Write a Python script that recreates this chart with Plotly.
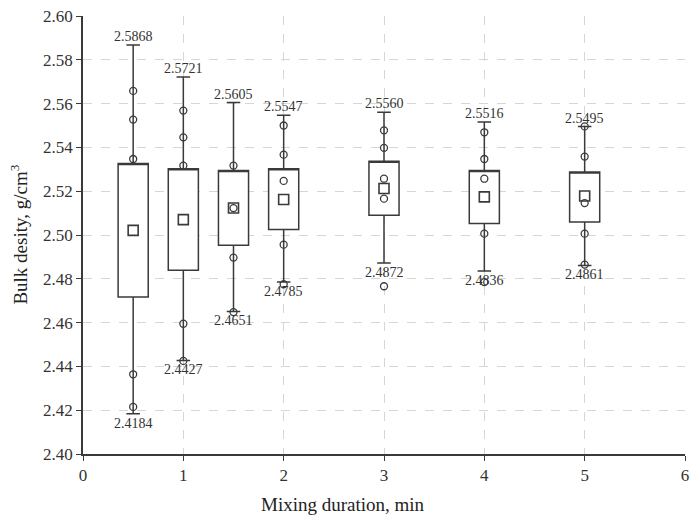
import plotly.graph_objects as go

# Data
positions = [0.5, 1.0, 1.5, 2.0, 3.0, 4.0, 5.0]
upper_whisker = [2.5868, 2.5721, 2.5605, 2.5547, 2.5560, 2.5516, 2.5495]
lower_whisker = [2.4184, 2.4427, 2.4651, 2.4785, 2.4872, 2.4836, 2.4861]
q3_values = [2.5326, 2.5303, 2.5295, 2.5302, 2.5337, 2.5295, 2.5288]
q1_values = [2.4717, 2.4839, 2.4953, 2.5025, 2.5090, 2.5052, 2.5059]
mean_values = [2.5021, 2.5070, 2.5123, 2.5162, 2.5212, 2.5174, 2.5178]
upper_labels = ["2.5868", "2.5721", "2.5605", "2.5547", "2.5560", "2.5516", "2.5495"]
lower_labels = ["2.4184", "2.4427", "2.4651", "2.4785", "2.4872", "2.4836", "2.4861"]

# individual points (circles)
point_x = [0.5, 0.5, 0.5, 0.5, 0.5,
           1.0, 1.0, 1.0, 1.0, 1.0,
           1.5, 1.5, 1.5, 1.5,
           2.0, 2.0, 2.0, 2.0, 2.0,
           3.0, 3.0, 3.0, 3.0, 3.0,
           4.0, 4.0, 4.0, 4.0, 4.0,
           5.0, 5.0, 5.0, 5.0, 5.0]
point_y = [2.5658, 2.5527, 2.5347, 2.4364, 2.4215,
           2.5568, 2.5446, 2.5317, 2.4595, 2.4425,
           2.5317, 2.5123, 2.4897, 2.4648,
           2.5500, 2.5367, 2.5247, 2.4956, 2.4775,
           2.5478, 2.5398, 2.5257, 2.5166, 2.4766,
           2.5469, 2.5347, 2.5257, 2.5006, 2.4785,
           2.5496, 2.5358, 2.5146, 2.5006, 2.4865]

line_col = "#3a3a3a"
serif = "Liberation Serif, Times New Roman, serif"

fig = go.Figure()
for i, p in enumerate(positions):
    fig.add_trace(go.Box(
        x=[p], q1=[q1_values[i]], median=[q3_values[i]], q3=[q3_values[i]],
        lowerfence=[lower_whisker[i]], upperfence=[upper_whisker[i]],
        width=0.3, whiskerwidth=0.45, boxpoints=False,
        fillcolor="white", line=dict(color=line_col, width=1.5),
        showlegend=False, hoverinfo="skip"))

fig.add_trace(go.Scatter(
    x=point_x, y=point_y, mode="markers",
    marker=dict(symbol="circle-open", size=7, color=line_col, line=dict(width=1.3)),
    showlegend=False))
fig.add_trace(go.Scatter(
    x=positions, y=mean_values, mode="markers",
    marker=dict(symbol="square-open", size=10, color=line_col, line=dict(width=1.6)),
    showlegend=False))

for i, p in enumerate(positions):
    fig.add_annotation(x=p, y=upper_whisker[i], text=upper_labels[i], showarrow=False,
                       yanchor="bottom", yshift=-1, font=dict(family=serif, size=14, color="#333"))
    fig.add_annotation(x=p, y=lower_whisker[i], text=lower_labels[i], showarrow=False,
                       yanchor="top", yshift=0, font=dict(family=serif, size=14, color="#333"))

fig.add_annotation(xref="paper", yref="paper", x=0.4315, y=0, yanchor="middle", yshift=-50,
                   text="Mixing duration, min", showarrow=False,
                   font=dict(family=serif, size=19, color="#222"))
fig.add_annotation(xref="paper", yref="paper", x=-0.107, y=0.5, xanchor="center", yanchor="middle",
                   textangle=-90, text="Bulk desity, g/cm<sup>3</sup>", showarrow=False,
                   font=dict(family=serif, size=19, color="#222"))

fig.update_xaxes(range=[0, 6], tickvals=[0, 1, 2, 3, 4, 5, 6], showline=True, linecolor=line_col,
                 linewidth=1.5, ticks="outside", ticklen=5, tickcolor=line_col,
                 showgrid=True, gridcolor="#d6d6d6", griddash="dash", gridwidth=1,
                 zeroline=False, ticklabeloverflow="allow",
                 tickfont=dict(family=serif, size=17, color="#333"))
fig.update_yaxes(range=[2.40, 2.60], tickvals=[2.40 + 0.02 * k for k in range(11)],
                 tickformat=".2f", showline=True, linecolor=line_col,
                 linewidth=1.5, ticks="outside", ticklen=5, tickcolor=line_col,
                 showgrid=True, gridcolor="#d6d6d6", griddash="dash", gridwidth=1,
                 zeroline=False, tickfont=dict(family=serif, size=17, color="#333"))

fig.update_layout(width=690, height=516, margin=dict(l=83, r=1, t=16, b=62),
                  plot_bgcolor="white", paper_bgcolor="white", showlegend=False)

fig.write_html("out.html")
